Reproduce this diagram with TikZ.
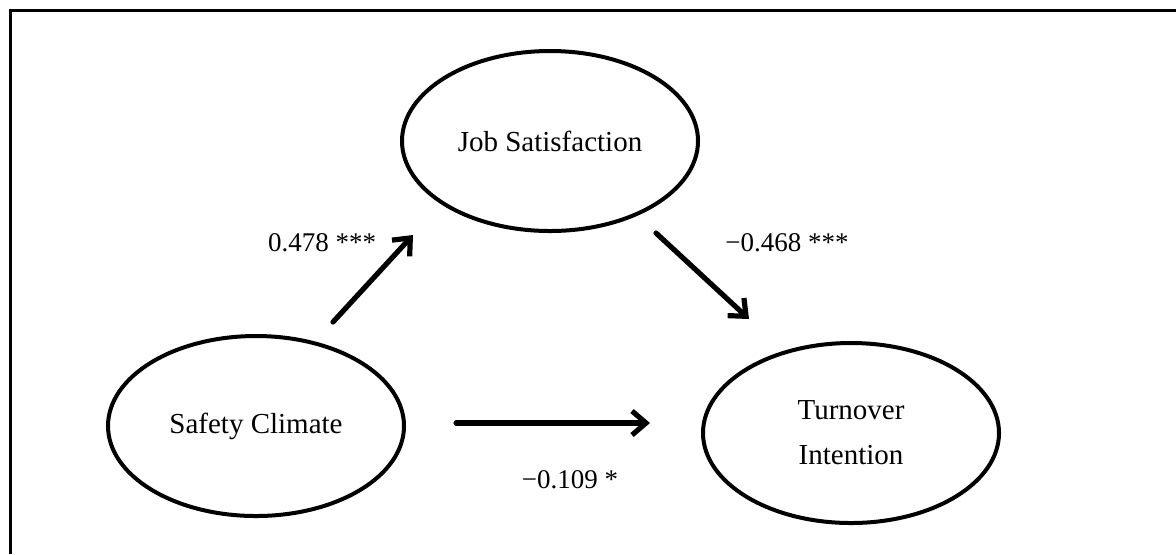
\documentclass[tikz,border=0pt]{standalone}
\usepackage{fontspec}
\setmainfont{Liberation Serif}
\usetikzlibrary{shapes.geometric,arrows.meta}
\begin{document}
\begin{tikzpicture}[x=0.5pt,y=-0.5pt,
  construct/.style={draw,ellipse,line width=2pt,minimum width=148pt,minimum height=90pt,inner sep=0pt,
    font=\fontsize{14.5}{22.5}\selectfont,align=center},
  path arrow/.style={line width=2.6pt,line cap=round,-{Straight Barb[length=7pt,width=12pt,line width=2.6pt]}},
  coef/.style={font=\fontsize{13.5}{16}\selectfont,inner sep=0pt}]
\useasboundingbox (0,0) rectangle (1176,554);
\draw[line width=1.6pt] (10.5,554) -- (10.5,10.5) -- (1176,10.5);
\node[construct] (js) at (550,141) {Job Satisfaction};
\node[construct] (sc) at (256,426) {Safety Climate};
\node[construct] (ti) at (851,433) {Turnover\\Intention};
\coordinate (a1s) at (333,322);
\coordinate (a1e) at (413,235);
\coordinate (a2s) at (656,233);
\coordinate (a2e) at (749,319);
\coordinate (a3s) at (456,423);
\coordinate (a3e) at (650,423);
\draw[path arrow] (a1s) -- (a1e);
\draw[path arrow] (a2s) -- (a2e);
\draw[path arrow] (a3s) -- (a3e);
\node[coef] (l1) at (322,243) {0.478 ***};
\node[coef] (l2) at (787,243) {−0.468 ***};
\node[coef] (l3) at (570,480) {−0.109 *};
\end{tikzpicture}
\end{document}
